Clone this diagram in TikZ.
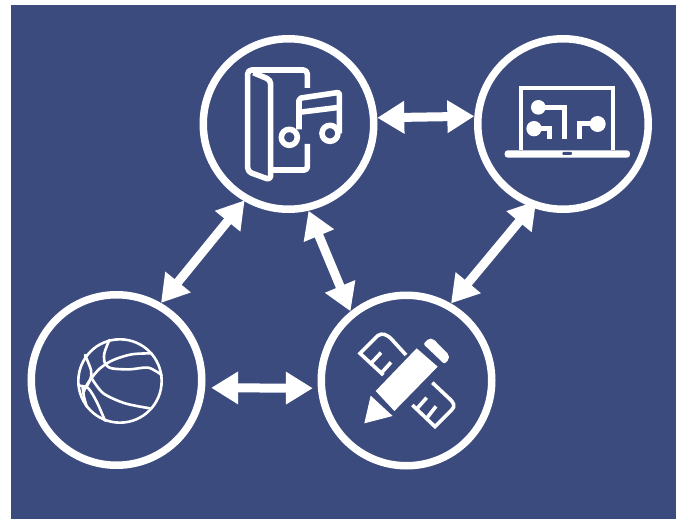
\documentclass[tikz,border=0pt]{standalone}
\usetikzlibrary{arrows.meta}

\definecolor{panelblue}{HTML}{3C4B7D}

\tikzset{
    topic/.style={draw=white, line width=7.5pt, circle, inner sep=0pt, minimum size=170.5pt},
    link/.style={draw=white, line width=9pt, {Triangle[length=27pt,width=31pt]}-{Triangle[length=27pt,width=31pt]}},
    icon/.style={draw=white, line width=5.6pt, line join=round},
    thinicon/.style={draw=white, line width=2.6pt, line cap=round, line join=round},
    rulericon/.style={draw=white, line width=3.6pt, line join=miter}
}

\begin{document}
\begin{tikzpicture}[x=1pt, y=-1pt]
    \useasboundingbox (0,0) rectangle (683,519);
    \fill[panelblue] (11,5) rectangle (676,519);

    \node[topic] (music) at (288.5,124) {};
    \node[topic] (laptop) at (563,124) {};
    \node[topic] (ball) at (116.5,380) {};
    \node[topic] (pencil) at (406.5,380.5) {};

    \draw[link] (music.4.5) -- (laptop.175);
    \draw[link, shorten <=-1pt] (music.240) -- (ball.60);
    \draw[link] (music.283) -- (pencil.129);
    \draw[link, shorten <=-8pt] (laptop.249) -- (pencil.60);
    \draw[link, shorten <=6pt, shorten >=5pt] (ball.-5.4) -- (pencil.185);

    % door and notes
    \begin{scope}[shift={(200,30)}, x=.3333pt, y=-.3333pt]
        \draw[icon, rounded corners=4pt] (322,174) -- (322,120) -- (143,120) -- (143,425) -- (212,450) -- (212,150) -- (160,128);
        \draw[icon, rounded corners=3pt] (322,342) -- (322,420) -- (218,420);
        \draw[icon] (268,322) circle (24);
        \draw[icon] (390,310) circle (24);
        \draw[icon, rounded corners=2pt] (297,298) -- (297,205) -- (418,187) -- (418,310);
        \draw[icon] (297,247) -- (418,232);
    \end{scope}

    % laptop and circuit
    \begin{scope}[shift={(470,30)}, x=.3333pt, y=-.3333pt]
        \draw[white, line width=4pt] (152,360) -- (152,175) -- (430,175) -- (430,360);
        \fill[white, rounded corners=3pt] (104,361) rectangle (480,383);
        \fill[panelblue, rounded corners=1pt] (277,366) rectangle (306,375);
        \fill[white] (205,232) circle (22) (192,296) circle (23) (383,282) circle (24);
        \draw[white, line width=5pt] (205,232) -- (285,232) -- (285,326);
        \draw[white, line width=5pt] (192,296) -- (240,296) -- (240,326);
        \draw[white, line width=5pt] (383,282) -- (330,282) -- (330,326);
    \end{scope}

    % pencil and ruler
    \begin{scope}[shift={(355,330)}, x=.3333pt, y=-.3333pt]
        \fill[white] (62,183) -- (185,55) -- (248,110) -- (118,243) -- cycle;
        \fill[white] (47,197) -- (113,258) -- (28,280) -- cycle;
        \fill[white, rounded corners=2pt] (205,42) -- (222,25) -- (235,27) -- (282,75) -- (282,88) -- (268,102) -- cycle;
        \draw[rulericon] (153,75) -- (112,30) .. controls (95,12) and (82,8) .. (68,17) -- (15,70) -- (85,135);
        \draw[rulericon] (48,100) -- (78,68) (80,128) -- (108,97);
        \draw[rulericon] (232,158) -- (280,203) .. controls (297,218) and (302,228) .. (290,240) -- (240,290) -- (172,225);
        \draw[rulericon] (185,237) -- (215,203) (215,265) -- (243,229);
    \end{scope}

    % basketball
    \begin{scope}[shift={(60,325)}, x=.3333pt, y=-.3333pt]
        \draw[thinicon] (180,168) circle (125);
        \draw[thinicon] plot[smooth] coordinates {(148,45) (133,85) (135,115) (155,130) (210,133) (265,128) (305,150)};
        \draw[thinicon] plot[smooth] coordinates {(275,85) (215,88) (160,105) (120,130) (90,165) (75,190) (72,200)};
        \draw[thinicon] plot[smooth] coordinates {(75,90) (93,135) (92,160) (80,185)};
        \draw[thinicon] plot[smooth] coordinates {(58,182) (85,190) (110,230) (135,287)};
        \draw[thinicon] plot[smooth] coordinates {(95,160) (130,205) (195,235) (270,250)};
        \draw[thinicon] plot[smooth] coordinates {(68,187) (72,215) (80,245)};
    \end{scope}
\end{tikzpicture}
\end{document}
